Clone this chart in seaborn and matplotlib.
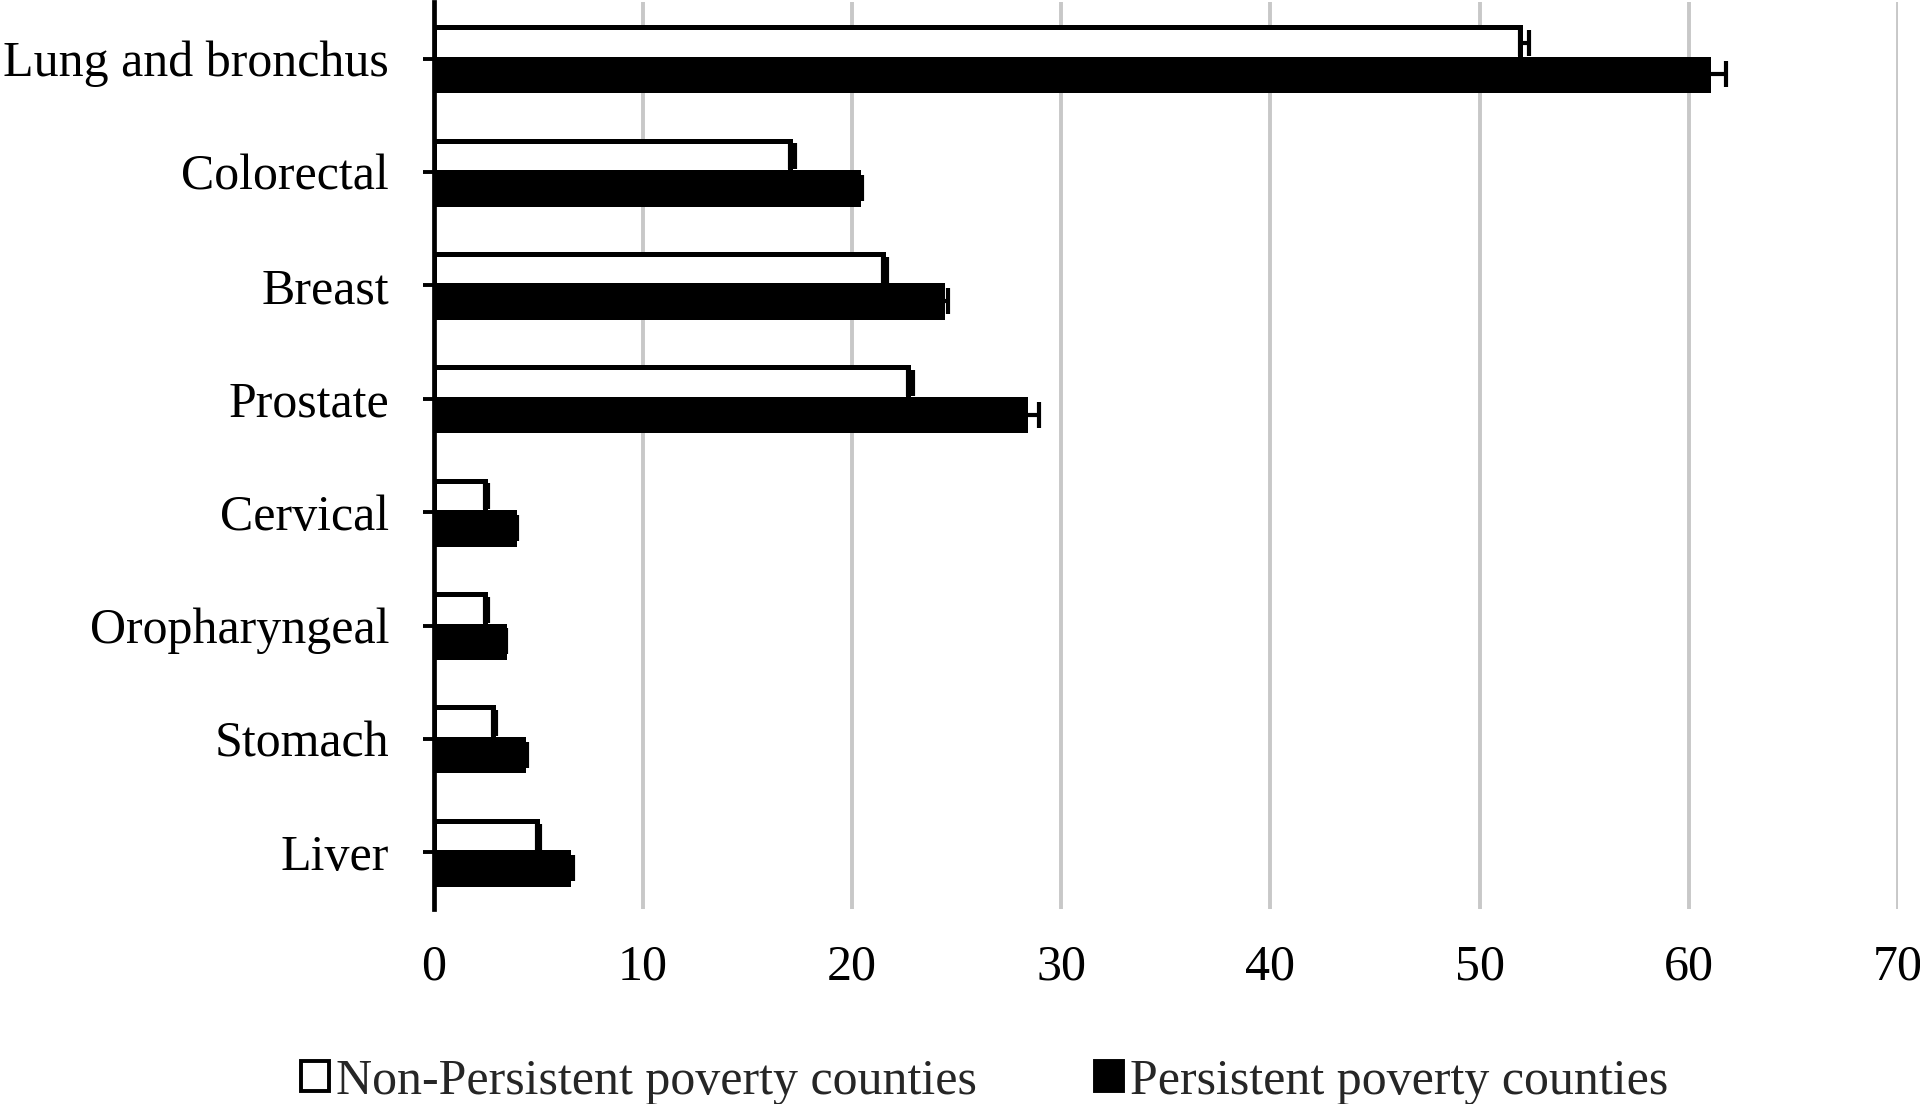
import matplotlib
matplotlib.use('Agg')
import matplotlib.pyplot as plt
import seaborn as sns
import pandas as pd
import numpy as np
from matplotlib.patches import Patch

categories = ["Lung and bronchus", "Colorectal", "Breast", "Prostate",
              "Cervical", "Oropharyngeal", "Stomach", "Liver"]
series = ["Non-Persistent poverty counties", "Persistent poverty counties"]
non_persistent = [51.95, 17.05, 21.5, 22.7, 2.45, 2.45, 2.85, 4.95]
non_persistent_err = [0.4, 0.25, 0.2, 0.2, 0.15, 0.15, 0.15, 0.15]
persistent = [60.9, 20.3, 24.3, 28.25, 3.85, 3.35, 4.3, 6.45]
persistent_err = [0.9, 0.2, 0.3, 0.7, 0.15, 0.12, 0.15, 0.2]
x_ticks = [0, 10, 20, 30, 40, 50, 60, 70]

sns.set_theme(style='white')
plt.rcParams['font.family'] = ['Liberation Serif', 'DejaVu Serif']

df = pd.DataFrame({
    'Cancer': categories * 2,
    'Series': [series[0]] * len(categories) + [series[1]] * len(categories),
    'Rate': non_persistent + persistent,
})

fig = plt.figure(figsize=(19.2, 11.04), dpi=100)
ax = fig.add_axes([433.5 / 1920, 1 - 909 / 1104, (1898 - 433.5) / 1920, (909 - 2) / 1104])
sns.barplot(data=df, y='Cancer', x='Rate', hue='Series', order=categories,
            hue_order=series, palette=['white', 'black'], edgecolor='black',
            linewidth=3.6, width=0.556, errorbar=None, orient='h', ax=ax,
            legend=False, saturation=1)

errs = [non_persistent_err, persistent_err]
for cont, err in zip(ax.containers, errs):
    xs = [p.get_width() for p in cont.patches]
    ys = [p.get_y() + p.get_height() / 2 for p in cont.patches]
    ax.errorbar(xs, ys, xerr=[np.zeros(len(err)), err], fmt='none',
                ecolor='black', elinewidth=3.0, capsize=9.5, capthick=3.0, zorder=5)

ax.set_xlim(0, 70)
ax.set_xticks(x_ticks)
ax.set_ylim(len(categories) - 0.5, -0.5)
ax.set_xlabel('')
ax.set_ylabel('')
ax.xaxis.grid(True, color='#c8c8c8', linewidth=2.8)
ax.yaxis.grid(False)
ax.set_axisbelow(True)
for s in ['top', 'right', 'bottom']:
    ax.spines[s].set_visible(False)
ax.spines['left'].set_color('black')
ax.spines['left'].set_linewidth(3.4)
ax.tick_params(axis='y', left=True, length=8, width=2.8, color='black', pad=24,
               labelsize=36, labelcolor='black')
ax.tick_params(axis='x', bottom=False, length=0, pad=25, labelsize=36, labelcolor='black')

handles = [Patch(facecolor='white', edgecolor='black', linewidth=2.8),
           Patch(facecolor='black', edgecolor='black', linewidth=2.8)]
fig.legend(handles, series, loc='center', bbox_to_anchor=(0.513, 0.0206), ncol=2,
           frameon=False, fontsize=36, handlelength=0.55, handleheight=0.55,
           handletextpad=0.15, columnspacing=2.36, borderaxespad=0)

fig.savefig('out.png', dpi=100, facecolor='white')
